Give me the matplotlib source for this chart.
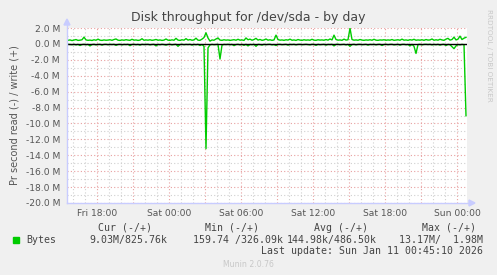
import numpy as np
import pandas as pd
import matplotlib
matplotlib.use("Agg")
import matplotlib.pyplot as plt
import matplotlib.dates as mdates

# 10-minute samples, Fri 2026-01-09 15:40 .. Sun 2026-01-11 00:50
start = "2026-01-09 15:40"
n_points = 200

# write bytes per second (M), positive side
write_m = [
    0.45, 0.50, 0.42, 0.48, 0.55, 0.44, 0.47, 0.52, 0.85, 0.50, 0.45, 0.48, 0.43, 0.52, 0.46, 0.60, 0.47, 0.44, 0.50, 0.46,
    0.48, 0.52, 0.45, 0.55, 0.62, 0.47, 0.44, 0.50, 0.46, 0.53, 0.48, 0.45, 0.58, 0.47, 0.50, 0.44, 0.48, 0.65, 0.46, 0.50,
    0.47, 0.52, 0.45, 0.49, 0.56, 0.46, 0.50, 0.44, 0.48, 0.62, 0.47, 0.45, 0.51, 0.46, 0.70, 0.48, 0.44, 0.52, 0.47, 0.66,
    0.48, 0.55, 0.46, 0.50, 0.72, 0.47, 0.45, 0.60, 0.80, 1.40, 0.75, 0.35, 0.50, 0.46, 0.62, 0.75, 0.48, 0.45, 0.52, 0.47,
    0.50, 0.44, 0.48, 0.53, 0.46, 0.58, 0.47, 0.50, 0.44, 0.75, 0.52, 0.60, 0.46, 0.55, 0.70, 0.48, 0.56, 0.45, 0.50, 0.62,
    0.47, 0.52, 0.45, 0.50, 1.10, 0.55, 0.47, 0.50, 0.45, 0.52, 0.48, 0.60, 0.46, 0.50, 0.44, 0.55, 0.48, 0.45, 0.52, 0.47,
    0.50, 0.46, 0.58, 0.47, 0.45, 0.52, 0.48, 0.50, 0.46, 0.55, 0.47, 0.62, 0.50, 1.10, 0.55, 0.47, 0.50, 0.45, 0.60, 0.48,
    0.52, 1.98, 0.55, 0.47, 0.50, 0.46, 0.55, 0.48, 0.45, 0.50, 0.47, 0.52, 0.46, 0.58, 0.47, 0.45, 0.50, 0.48, 0.52, 0.46,
    0.50, 0.47, 0.55, 0.45, 0.48, 0.52, 0.46, 0.60, 0.47, 0.50, 0.45, 0.53, 0.48, 0.58, 0.46, 0.50, 0.47, 0.52, 0.45, 0.55,
    0.48, 0.50, 0.62, 0.46, 0.52, 0.47, 0.58, 0.50, 0.45, 0.60, 0.70, 0.48, 0.55, 0.85, 0.50, 0.60, 0.98, 0.55, 0.72, 0.83,
]

# read bytes per second (M), drawn on the negative side
read_m = [
    0.05, 0.08, 0.10, 0.05, 0.12, 0.06, 0.20, 0.08, 0.05, 0.10, 0.06, 0.25, 0.08, 0.05, 0.12, 0.07, 0.05, 0.15, 0.06, 0.05,
    0.10, 0.06, 0.08, 0.05, 0.18, 0.07, 0.05, 0.12, 0.06, 0.08, 0.05, 0.22, 0.07, 0.05, 0.10, 0.06, 0.15, 0.05, 0.08, 0.06,
    0.05, 0.12, 0.07, 0.05, 0.25, 0.06, 0.10, 0.05, 0.08, 0.15, 0.06, 0.05, 0.12, 0.07, 0.05, 0.30, 0.08, 0.05, 0.10, 0.06,
    0.08, 0.05, 0.15, 0.06, 0.10, 0.05, 0.20, 0.08, 0.30, 13.17, 0.50, 0.12, 0.06, 0.10, 0.08, 0.05, 1.90, 0.15, 0.06, 0.08,
    0.05, 0.10, 0.06, 0.22, 0.08, 0.05, 0.12, 0.06, 0.18, 0.05, 0.25, 0.07, 0.10, 0.05, 0.30, 0.06, 0.08, 0.15, 0.05, 0.10,
    0.06, 0.05, 0.12, 0.08, 0.20, 0.06, 0.05, 0.10, 0.07, 0.05, 0.15, 0.06, 0.08, 0.05, 0.12, 0.06, 0.05, 0.10, 0.07, 0.05,
    0.08, 0.12, 0.05, 0.06, 0.18, 0.05, 0.10, 0.07, 0.05, 0.15, 0.06, 0.08, 0.05, 0.25, 0.06, 0.05, 0.10, 0.08, 0.05, 0.12,
    0.06, 0.30, 0.08, 0.05, 0.12, 0.06, 0.05, 0.10, 0.07, 0.05, 0.15, 0.06, 0.08, 0.05, 0.12, 0.06, 0.05, 0.20, 0.07, 0.05,
    0.10, 0.06, 0.05, 0.12, 0.08, 0.05, 0.15, 0.06, 0.05, 0.10, 0.07, 0.25, 0.06, 0.30, 1.20, 0.08, 0.05, 0.12, 0.06, 0.05,
    0.08, 0.05, 0.12, 0.06, 0.10, 0.05, 0.15, 0.07, 0.05, 0.20, 0.06, 0.10, 0.35, 0.60, 0.25, 0.08, 0.12, 0.06, 0.10, 9.03,
]

y_ticks = [2, 0, -2, -4, -6, -8, -10, -12, -14, -16, -18, -20]
legend_headers = ["Cur (-/+)", "Min (-/+)", "Avg (-/+)", "Max (-/+)"]
legend_values = ["9.03M/825.76k", "159.74 /326.09k", "144.98k/486.50k", "13.17M/  1.98M"]
last_update = "Last update: Sun Jan 11 00:45:10 2026"

times = pd.date_range(start, periods=n_points, freq="10min")
W, H = 497, 275


def fx(x):
    return x / W


def fy(y):
    return 1 - y / H


fig = plt.figure(figsize=(W / 100, H / 100), dpi=100, facecolor="#F0F0F0")
ax = fig.add_axes([fx(67), fy(203), 400 / W, 175 / H])
ax.set_facecolor("white")
for s in ax.spines.values():
    s.set_visible(False)

x0 = pd.Timestamp("2026-01-09 15:30")
x1 = pd.Timestamp("2026-01-11 00:50")
ax.set_xlim(x0, x1)
ax.set_ylim(-20, 2)

# grid: grey dotted minor, red dotted major
for t in pd.date_range("2026-01-09 16:00", x1, freq="1h"):
    if t.hour % 3 == 0:
        ax.axvline(t, color="#e8a0a0", lw=0.8, ls=(0, (1, 2)), zorder=1)
    else:
        ax.axvline(t, color="#d0d0d0", lw=0.8, ls=(0, (1, 2)), zorder=1)
for v in range(-20, 3):
    if v % 2 == 0:
        ax.axhline(v, color="#e8a0a0", lw=0.8, ls=(0, (1, 2)), zorder=1)
    else:
        ax.axhline(v, color="#d0d0d0", lw=0.8, ls=(0, (1, 2)), zorder=1)

ax.plot(times - pd.Timedelta("5min"), write_m, color="#00CC00", lw=1.0, zorder=4)
ax.plot(times - pd.Timedelta("5min"), -np.array(read_m), color="#00CC00", lw=1.0, zorder=4)
ax.axhline(0, color="black", lw=1.0, zorder=5)

ax.set_yticks(y_ticks)
ax.set_yticklabels([f"{v:.1f} M" for v in y_ticks])
ax.xaxis.set_major_locator(mdates.HourLocator(byhour=[0, 6, 12, 18]))
ax.xaxis.set_major_formatter(mdates.DateFormatter("%a %H:%M"))
ax.tick_params(axis="both", length=0, labelsize=6.6, colors="#555555")
ax.tick_params(axis="x", pad=4)
ax.tick_params(axis="y", pad=5)

ax.set_ylabel("Pr second read (-) / write (+)", fontsize=7, color="#555555", labelpad=4)

# axis lines with arrows
axis_c = "#c8ccff"
fig.add_artist(plt.Line2D([fx(67), fx(67)], [fy(203), fy(24)], color=axis_c, lw=1))
fig.add_artist(plt.Line2D([fx(67), fx(470)], [fy(203), fy(203)], color=axis_c, lw=1))
fig.add_artist(plt.Polygon([[fx(64), fy(25)], [fx(70), fy(25)], [fx(67), fy(19)]], color=axis_c))
fig.add_artist(plt.Polygon([[fx(469), fy(200)], [fx(469), fy(206)], [fx(475), fy(203)]], color=axis_c))

fig.text(fx(248), fy(18), "Disk throughput for /dev/sda - by day", ha="center", va="center",
         fontsize=9.0, color="#444444")
fig.text(fx(489), fy(55), "RRDTOOL / TOBI OETIKER", rotation=270, ha="center", va="center",
         fontsize=5.2, color="#c8c8c8")

mono = "DejaVu Sans Mono"
header_right = [152, 259, 368, 476]
value_right = [167, 283, 377, 483]
for txt, xr in zip(legend_headers, header_right):
    fig.text(fx(xr), fy(228), txt, ha="right", va="center", family=mono, fontsize=7.1, color="#444444")
for txt, xr in zip(legend_values, value_right):
    fig.text(fx(xr), fy(240), txt, ha="right", va="center", family=mono, fontsize=7.1, color="#444444")
fig.add_artist(plt.Rectangle((fx(13), fy(243)), 6 / W, 6 / H, color="#00CC00"))
fig.text(fx(26), fy(240), "Bytes", ha="left", va="center", family=mono, fontsize=7.1, color="#444444")
fig.text(fx(483), fy(251.5), last_update, ha="right", va="center", family=mono, fontsize=7.1, color="#444444")
fig.text(fx(248), fy(264.5), "Munin 2.0.76", ha="center", va="center", fontsize=5.6, color="#c8c8c8")

fig.savefig("out.png", dpi=100, facecolor=fig.get_facecolor())
